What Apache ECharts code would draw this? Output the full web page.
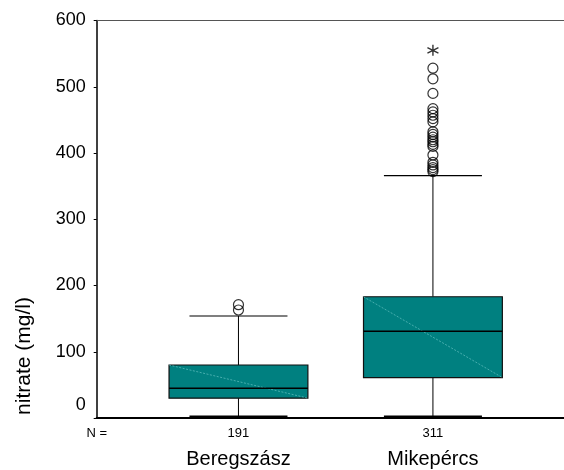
<!DOCTYPE html>
<html>
<head>
<meta charset="utf-8">
<script src="https://cdn.jsdelivr.net/npm/echarts@6/dist/echarts.min.js"></script>
<style>
html,body{margin:0;padding:0;background:#fff;}
#chart{width:564px;height:470px;}
</style>
</head>
<body>
<div id="chart"></div>
<script>
// ---- data ----
const categories = ['Beregszász', 'Mikepércs'];
const counts = [191, 311];
const positions = [1, 2];
const whiskerLow = [2, 2];
const q1 = [30, 61];
const median = [45, 131];
const q3 = [80, 183];
const whiskerHigh = [154, 366];
const outliersBeregszasz = [163, 171];
const outliersMikepercs = [372, 375, 378, 382, 386, 397, 410, 413, 417, 420, 424, 428, 432, 447, 452, 457, 462, 467, 490, 512, 528];
const extremesMikepercs = [555];
const yMin = 0, yMax = 600, yStep = 100;
const xMin = 0.271, xMax = 2.674;

// ---- build options ----
const FONT = 'Liberation Sans, Arial, sans-serif';
const BOX_HALF = 0.357;
const CAP_HALF = 0.252;

const boxData = positions.map((x, i) => [x, whiskerLow[i], q1[i], median[i], q3[i], whiskerHigh[i]]);
const outlierData = outliersBeregszasz.map(v => [positions[0], v])
  .concat(outliersMikepercs.map(v => [positions[1], v]));
const extremeData = extremesMikepercs.map(v => [positions[1], v]);

function renderItem(params, api) {
  const x = api.value(0), lo = api.value(1), a = api.value(2), m = api.value(3), b = api.value(4), hi = api.value(5);
  const p = (xx, yy) => api.coord([xx, yy]);
  const tl = p(x - BOX_HALF, b), br = p(x + BOX_HALF, a);
  const line = (p1, p2, w, color, dash) => ({
    type: 'line',
    shape: { x1: p1[0], y1: p1[1], x2: p2[0], y2: p2[1] },
    style: { stroke: color || '#000', lineWidth: w, lineDash: dash || null }
  });
  return {
    type: 'group',
    children: [
      line(p(x, b), p(x, hi), 1),
      line(p(x, lo), p(x, a), 1),
      line(p(x - CAP_HALF, hi), p(x + CAP_HALF, hi), 1.2),
      line(p(x - CAP_HALF, lo), p(x + CAP_HALF, lo), 2.2),
      {
        type: 'rect',
        shape: { x: tl[0], y: tl[1], width: br[0] - tl[0], height: br[1] - tl[1] },
        style: { fill: '#008080', stroke: '#111', lineWidth: 1.2 }
      },
      line(tl, br, 0.7, '#66c2c2', [2, 1.5]),
      line(p(x - BOX_HALF, m), p(x + BOX_HALF, m), 1.4, '#000')
    ]
  };
}

const chart = echarts.init(document.getElementById('chart'), null, { renderer: 'canvas' });
chart.setOption({
  animation: false,
  backgroundColor: '#fff',
  grid: { left: 96.7, right: 0, top: 20.5, bottom: 52 },
  xAxis: [{
    type: 'value', min: xMin, max: xMax,
    splitLine: { show: false },
    axisLine: { show: true, onZero: false, lineStyle: { color: '#000', width: 2 } },
    axisTick: { show: false },
    axisLabel: {
      customValues: [xMin].concat(positions),
      margin: 7,
      formatter: function (v) {
        const i = positions.indexOf(v);
        if (i < 0) return '{n|N =}';
        return '{n|' + counts[i] + '}\n{c|' + categories[i] + '}';
      },
      rich: {
        n: { fontSize: 13, fontFamily: FONT, color: '#000', lineHeight: 16 },
        c: { fontSize: 20, fontFamily: FONT, color: '#000', lineHeight: 36 }
      }
    }
  }, {
    type: 'value', min: xMin, max: xMax, position: 'top',
    splitLine: { show: false },
    axisLine: { show: true, onZero: false, lineStyle: { color: '#555', width: 1 } },
    axisTick: { show: false },
    axisLabel: { show: false }
  }],
  yAxis: {
    type: 'value', min: yMin, max: yMax, interval: yStep,
    splitLine: { show: false },
    axisLine: { show: true, lineStyle: { color: '#000', width: 1.5 } },
    axisTick: { show: true, length: 3, lineStyle: { color: '#000' } },
    axisLabel: {
      margin: 11,
      fontSize: 18, fontFamily: FONT, color: '#000',
      formatter: function (v) { return v === 0 ? '{z|0}' : String(v); },
      rich: { z: { fontSize: 18, fontFamily: FONT, color: '#000', padding: [0, 0, 26, 0] } }
    }
  },
  graphic: [{
    type: 'text',
    x: 24, y: 356,
    rotation: Math.PI / 2,
    style: {
      text: 'nitrate (mg/l)',
      font: '21px ' + FONT,
      fill: '#000',
      align: 'center',
      verticalAlign: 'middle'
    }
  }],
  series: [{
    type: 'custom',
    renderItem: renderItem,
    data: boxData,
    encode: { x: 0, y: [1, 2, 3, 4, 5] },
    z: 2
  }, {
    type: 'scatter',
    data: outlierData,
    symbol: 'circle',
    symbolSize: 10,
    itemStyle: { color: 'transparent', borderColor: '#000', borderWidth: 1.2 },
    z: 3
  }, {
    type: 'scatter',
    data: extremeData,
    symbol: 'path://M0,-5L0,5M-4.33,-2.5L4.33,2.5M-4.33,2.5L4.33,-2.5',
    symbolSize: 11,
    itemStyle: { color: 'transparent', borderColor: '#000', borderWidth: 1.4 },
    z: 3
  }]
});
</script>
</body>
</html>
